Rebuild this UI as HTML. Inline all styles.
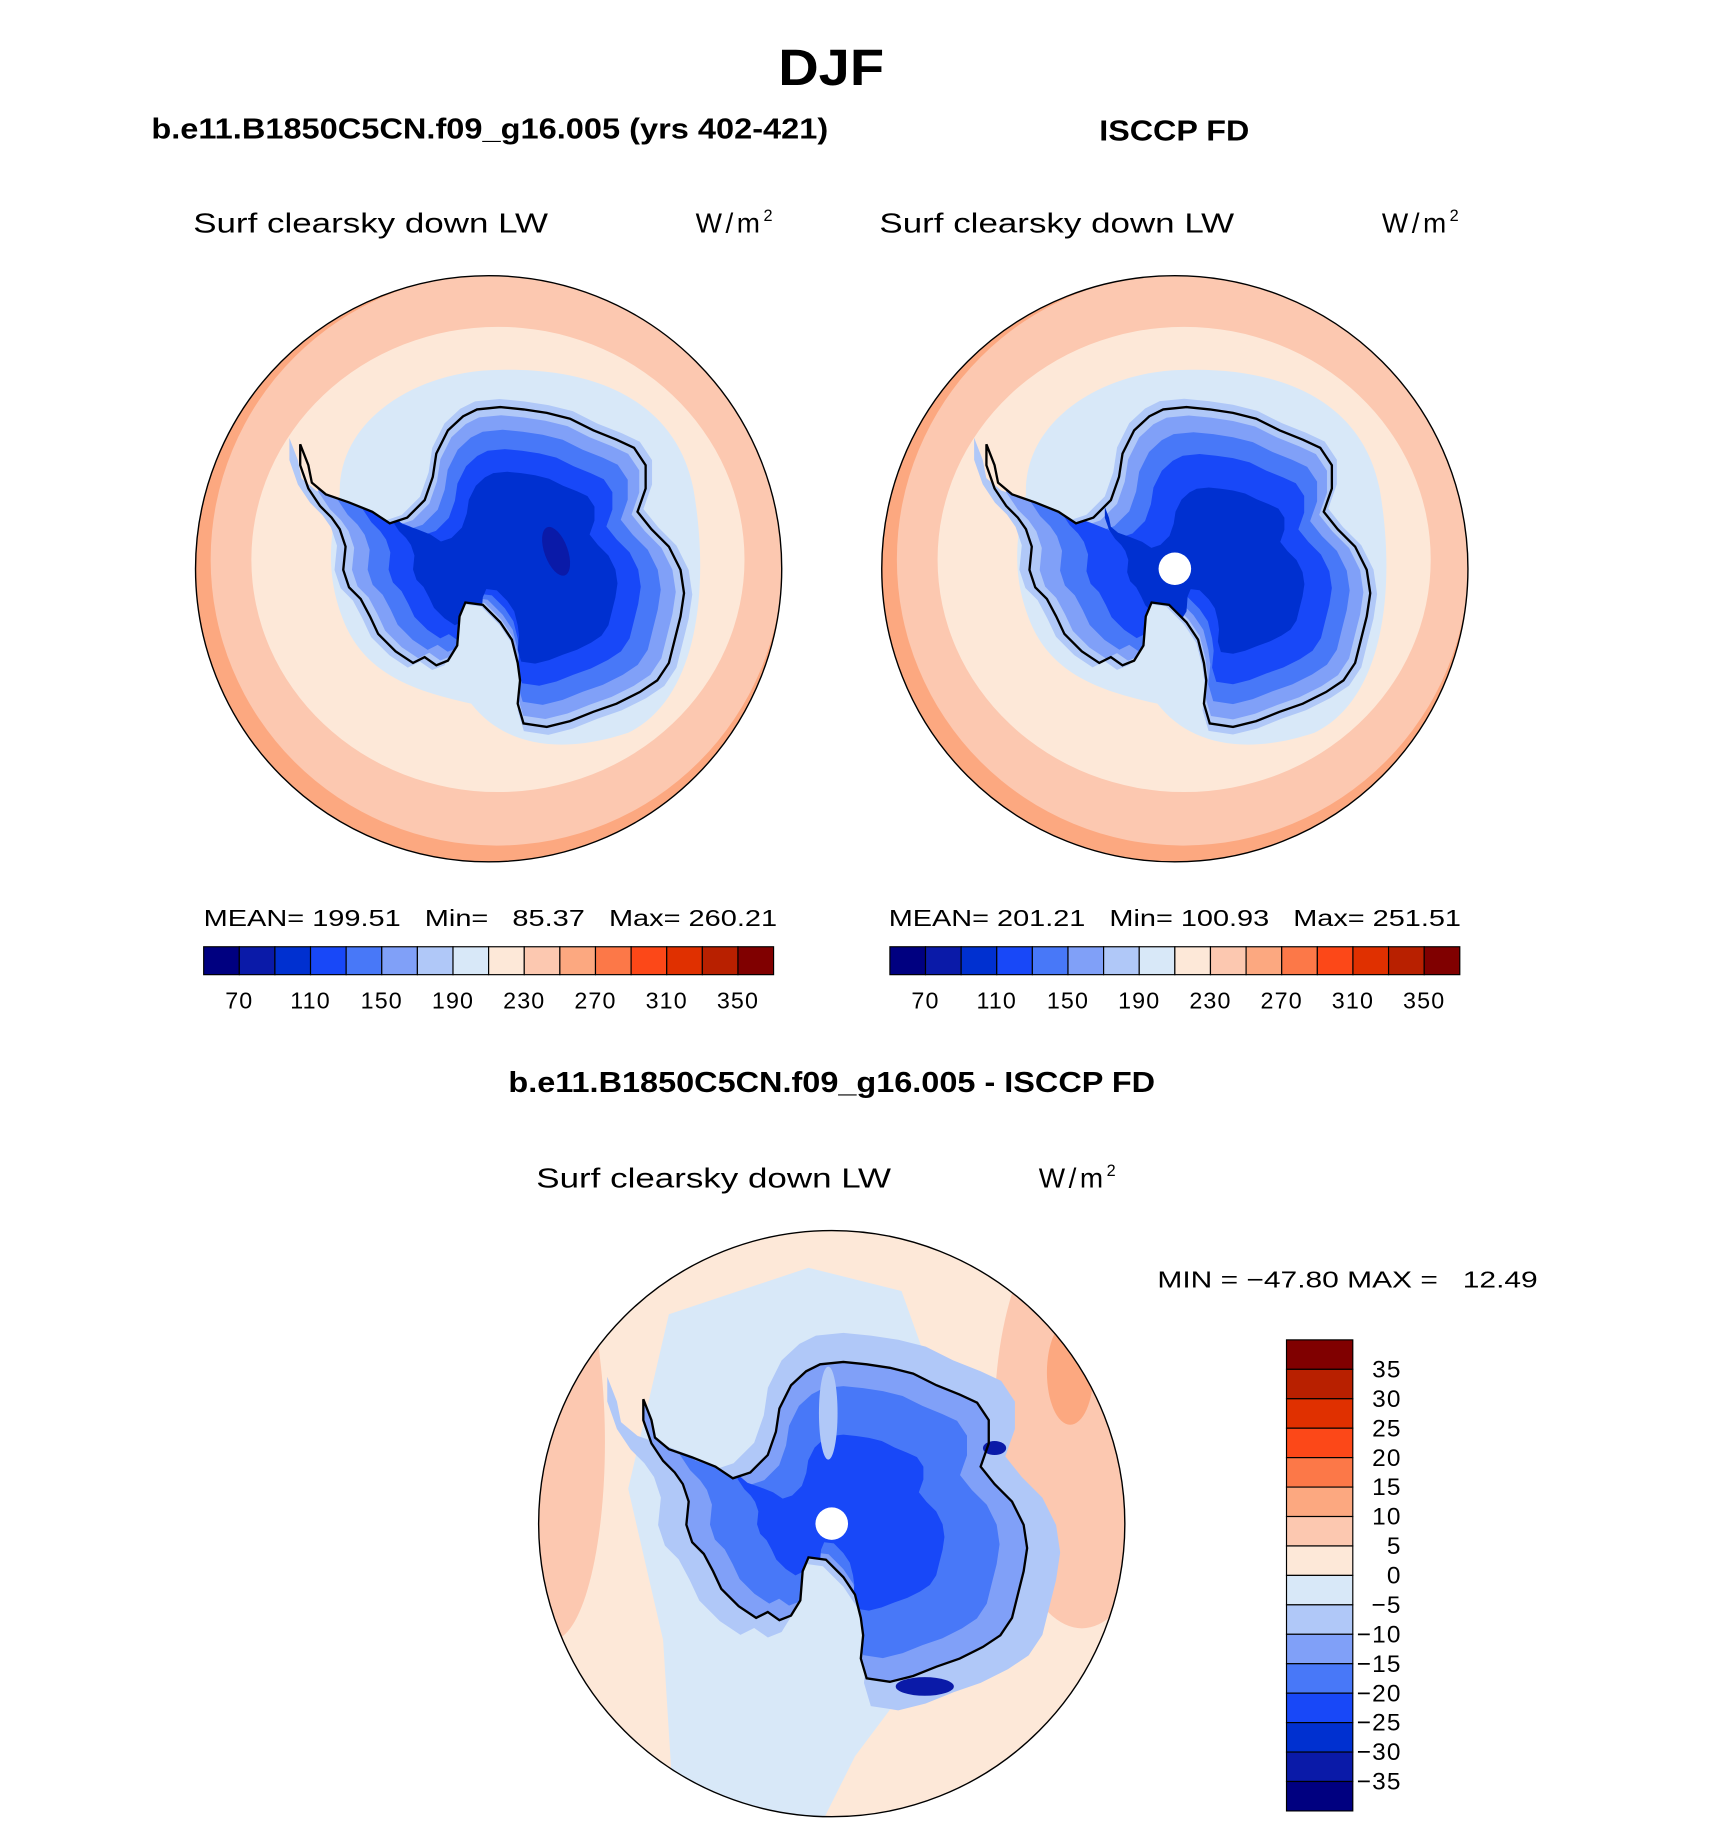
<!DOCTYPE html>
<html><head><meta charset="utf-8">
<style>
html,body{margin:0;padding:0;background:#fff;}
svg{display:block;font-family:"Liberation Sans",sans-serif;}
</style></head>
<body>
<svg id="fig" width="1710" height="1840" viewBox="0 0 1470 1582" xmlns="http://www.w3.org/2000/svg">
<defs>
<clipPath id="c1"><circle cx="420" cy="489" r="252"/></clipPath>
<clipPath id="c2"><circle cx="1010" cy="489" r="252"/></clipPath>
<clipPath id="c3"><circle cx="715" cy="1310" r="252"/></clipPath>
</defs>
<text x="669" y="73" textLength="91" lengthAdjust="spacingAndGlyphs" font-size="44" font-weight="bold">DJF</text>
<text x="130" y="119" textLength="582" lengthAdjust="spacingAndGlyphs" font-size="25" font-weight="bold">b.e11.B1850C5CN.f09_g16.005 (yrs 402-421)</text>
<text x="945" y="121" textLength="129" lengthAdjust="spacingAndGlyphs" font-size="25" font-weight="bold">ISCCP FD</text>
<text x="437" y="939" textLength="556" lengthAdjust="spacingAndGlyphs" font-size="25" font-weight="bold">b.e11.B1850C5CN.f09_g16.005 - ISCCP FD</text>

<text x="166" y="200" textLength="305" lengthAdjust="spacingAndGlyphs" font-size="24">Surf clearsky down LW</text>
<text x="598" y="200" font-size="24" letter-spacing="3">W/m<tspan dy="-10" font-size="14">2</tspan></text>
<text x="756" y="200" textLength="305" lengthAdjust="spacingAndGlyphs" font-size="24">Surf clearsky down LW</text>
<text x="1188" y="200" font-size="24" letter-spacing="3">W/m<tspan dy="-10" font-size="14">2</tspan></text>
<text x="461" y="1021" textLength="305" lengthAdjust="spacingAndGlyphs" font-size="24">Surf clearsky down LW</text>
<text x="893" y="1021" font-size="24" letter-spacing="3">W/m<tspan dy="-10" font-size="14">2</tspan></text>

<text x="175" y="796" textLength="493" lengthAdjust="spacingAndGlyphs" font-size="20" xml:space="preserve">MEAN= 199.51   Min=   85.37   Max= 260.21</text>
<text x="764" y="796" textLength="492" lengthAdjust="spacingAndGlyphs" font-size="20" xml:space="preserve">MEAN= 201.21   Min= 100.93   Max= 251.51</text>
<text x="995" y="1107" textLength="327" lengthAdjust="spacingAndGlyphs" font-size="20" xml:space="preserve">MIN = −47.80 MAX =   12.49</text>
<g id="layer"></g>
</svg>
<script>
const palette = ["#000080","#0a1aa8","#0030d0","#1848f8","#4878f8","#80a0f8","#b0c8f8","#d8e8f8","#fde8d8","#fcc8b0","#fca880","#fc7848","#fc4818","#e03000","#b82000","#800000"];
const absTicks = ["70","110","150","190","230","270","310","350"];
const diffTicks = ["35","30","25","20","15","10","5","0","−5","−10","−15","−20","−25","−30","−35"];
const map1Levels = [6,5,4,3,2];
const map2Levels = [6,5,4,3,2];
const map3Levels = [6,5,4,3];

const NS="http://www.w3.org/2000/svg";
const layer=document.getElementById('layer');
const defs=document.querySelector('defs');
function mk(tag,attrs,parent){const e=document.createElementNS(NS,tag);for(const k in attrs)e.setAttribute(k,attrs[k]);(parent||layer).appendChild(e);return e;}

const coastAbs=[[258,382],[265,400],[268,415],[280,425],[300,432],[320,440],[335,450],[350,445],[365,430],[372,410],[375,390],[385,370],[398,358],[410,352],[430,350],[450,352],[470,355],[490,360],[510,370],[530,378],[545,385],[555,400],[555,420],[548,440],[560,455],[575,470],[585,490],[588,510],[585,530],[580,550],[575,570],[565,585],[550,595],[530,605],[510,612],[490,620],[470,625],[450,622],[445,605],[447,585],[445,570],[440,550],[430,535],[415,520],[400,518],[395,530],[393,555],[385,568],[375,572],[365,565],[355,570],[340,560],[325,545],[318,530],[310,515],[300,505],[295,490],[297,470],[292,455],[285,445],[275,435],[265,420],[258,400]];
const coast=coastAbs.map(p=>[p[0]-420,p[1]-489]);
function shapePath(cx,cy,s,ox,oy){return coast.map((p,i)=>(i?'L':'M')+(cx+ox+(p[0]-ox)*s).toFixed(1)+','+(cy+oy+(p[1]-oy)*s).toFixed(1)).join('')+'Z';}
function blob(cx,cy){const dx=cx-420,dy=cy-489;const P=(x,y)=>(x+dx)+','+(y+dy);
  return `M${P(292,425)} C${P(290,360)} ${P(360,318)} ${P(430,318)} C${P(520,316)} ${P(582,350)} ${P(596,420)} C${P(610,500)} ${P(602,600)} ${P(540,630)} C${P(480,650)} ${P(432,640)} ${P(405,605)} C${P(360,595)} ${P(318,582)} ${P(298,540)} C${P(280,500)} ${P(282,465)} ${P(292,425)}Z`;}

let clipN=0;
function map(cx,cy,clip,name,bg,levels,opts){
  const g=mk('g',{'clip-path':'url(#'+clip+')'});
  
  
  mk('circle',{cx:cx,cy:cy,r:252,fill:bg},g);
  opts.pre(g,cx,cy);
  const id='coast'+(clipN++);
  const cp=mk('clipPath',{id:id},defs);
  mk('path',{d:shapePath(cx,cy,1,0,0)},cp);
  levels.forEach((lv,i)=>{
    const s=opts.scales[i];
    const attrs={d:shapePath(cx,cy,s,opts.ox,opts.oy),fill:palette[lv]};
    if(s<1)attrs['clip-path']='url(#'+id+')';
    const p=mk('path',attrs,g);
    
    
  });
  if(opts.post)opts.post(g,cx,cy);
  const c=mk('path',{d:shapePath(cx,cy,1,0,0),fill:'none',stroke:'#000','stroke-width':2},g);
  
  
  const b=mk('circle',{cx:cx,cy:cy,r:252,fill:'none',stroke:'#000','stroke-width':1.2});
  
  
}
function absPre(g,cx,cy){
  mk('circle',{cx:cx,cy:cy,r:252,fill:palette[10]},g);
  mk('circle',{cx:cx+7,cy:cy-8,r:246,fill:palette[9]},g);
  mk('ellipse',{cx:cx+8,cy:cy-8,rx:212,ry:200,fill:palette[8]},g);
  const b=mk('path',{d:blob(cx,cy),fill:palette[7]},g);
  
  
}
map(420,489,'c1','map-model',palette[9],map1Levels,{ox:25,oy:0,scales:[1.05,0.95,0.86,0.74,0.6],pre:absPre,post:(g,cx,cy)=>{mk('ellipse',{cx:cx+58,cy:cy-15,rx:10,ry:22,fill:palette[1],transform:`rotate(-20 ${cx+58} ${cy-15})`},g);}});
map(1010,489,'c2','map-isccp',palette[9],map2Levels,{ox:50,oy:5,scales:[1.05,0.95,0.85,0.72,0.52],pre:absPre,post:(g,cx,cy)=>{mk('circle',{cx:cx,cy:cy,r:14,fill:'#fff'},g);}});
map(715,1310,'c3','map-difference',palette[8],map3Levels,{ox:10,oy:0,scales:[1.18,1.0,0.85,0.55],pre:(g,cx,cy)=>{
  mk('ellipse',{cx:cx-240,cy:cy-70,rx:45,ry:170,fill:palette[9]},g);
  mk('ellipse',{cx:cx+215,cy:cy-90,rx:75,ry:180,fill:palette[9]},g);
  mk('ellipse',{cx:cx+205,cy:cy-130,rx:20,ry:45,fill:palette[10]},g);
  const b=mk('path',{d:`M${cx-135},${cy+260} L${cx-145},${cy+100} L${cx-175},${cy-30} L${cx-140},${cy-180} L${cx-20},${cy-220} L${cx+60},${cy-200} L${cx+110},${cy-60} L${cx+80},${cy+120} L${cx+20},${cy+200} L${cx-10},${cy+260}Z`,fill:palette[7]},g);
  
  
},post:(g,cx,cy)=>{
  mk('ellipse',{cx:cx-3,cy:cy-95,rx:8,ry:40,fill:palette[6]},g);
  mk('ellipse',{cx:cx+80,cy:cy+140,rx:25,ry:8,fill:palette[1]},g);
  mk('ellipse',{cx:cx+140,cy:cy-65,rx:10,ry:6,fill:palette[1]},g);
  mk('circle',{cx:cx,cy:cy,r:14,fill:'#fff'},g);}});

function hbar(x0,y0,name){
  const w=490/palette.length;
  palette.forEach((col,i)=>{
    const r=mk('rect',{x:x0+i*w,y:y0,width:w,height:24,fill:col,stroke:'#000','stroke-width':1});
    
    
  });
  absTicks.forEach((t,i)=>{
    const tx=mk('text',{x:x0+(2*i+1)*w,y:y0+53,'text-anchor':'middle','font-size':20,'letter-spacing':1});
    tx.textContent=t;
    
    
  });
}
hbar(175,814,'colorbar-model');
hbar(765,814,'colorbar-isccp');
(function(){
  const x0=1106,y0=1152,h=405/palette.length;
  palette.slice().reverse().forEach((col,i)=>{
    const r=mk('rect',{x:x0,y:y0+i*h,width:57,height:h,fill:col,stroke:'#000','stroke-width':1});
    
    
  });
  diffTicks.forEach((t,i)=>{
    const tx=mk('text',{x:1205,y:y0+(i+1)*h+7,'text-anchor':'end','font-size':21,'letter-spacing':1});
    tx.textContent=t;
    
    
  });
})();
</script>
</body></html>
